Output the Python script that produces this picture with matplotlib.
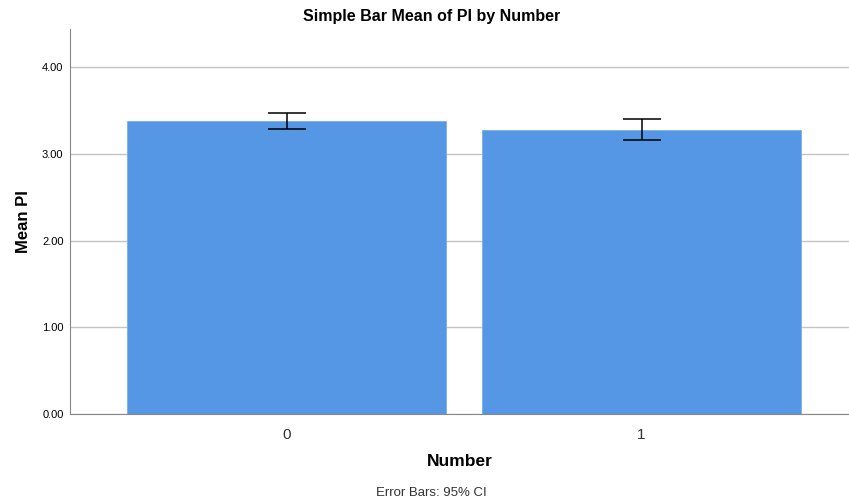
import matplotlib.pyplot as plt
import numpy as np

plt.rcParams['font.family'] = ['Liberation Sans', 'DejaVu Sans']

# data
groups = ['0', '1']
mean_pi = [3.375, 3.28]
ci_low = [3.284, 3.157]
ci_high = [3.475, 3.402]

x = np.arange(len(groups))
mean_arr = np.array(mean_pi)
yerr = [mean_arr - np.array(ci_low), np.array(ci_high) - mean_arr]

fig = plt.figure(figsize=(8.49, 5.04), dpi=100)
ax = fig.add_axes([0.083, 0.1786, 0.917, 0.7639])

ax.bar(x, mean_pi, width=0.9, color='#5596e5', edgecolor='#7aaef0', linewidth=0.6, zorder=2)
ax.errorbar(x, mean_pi, yerr=yerr, fmt='none', ecolor='black', elinewidth=1.1,
            capsize=14, capthick=1.1, zorder=3)

ax.set_xlim(-0.61, 1.585)
ax.set_ylim(0, 4.44)
ax.set_yticks([0, 1, 2, 3, 4])
ax.set_yticklabels(['%.2f' % v for v in [0, 1, 2, 3, 4]], fontsize=8)
ax.set_xticks(x)
ax.set_xticklabels(groups, fontsize=11, color='#333333')
ax.tick_params(axis='both', length=0)
ax.tick_params(axis='y', pad=5)
ax.tick_params(axis='x', pad=10)

ax.grid(axis='y', color='#c4c4c4', linewidth=1, zorder=0)
ax.set_axisbelow(True)
for s in ['top', 'right']:
    ax.spines[s].set_visible(False)
ax.spines['left'].set_color('#888888')
ax.spines['bottom'].set_color('#888888')

ax.set_xlabel('Number', fontsize=12.5, fontweight='bold', labelpad=9)
ax.set_ylabel('Mean PI', fontsize=12, fontweight='bold', labelpad=8)

fig.text(0.508, 0.967, 'Simple Bar Mean of PI by Number', ha='center', va='center',
         fontsize=11.5, fontweight='bold')
fig.text(0.508, 0.022, 'Error Bars: 95% CI', ha='center', va='center', fontsize=9.5, color='#333333')

fig.savefig('out.png', dpi=100)
